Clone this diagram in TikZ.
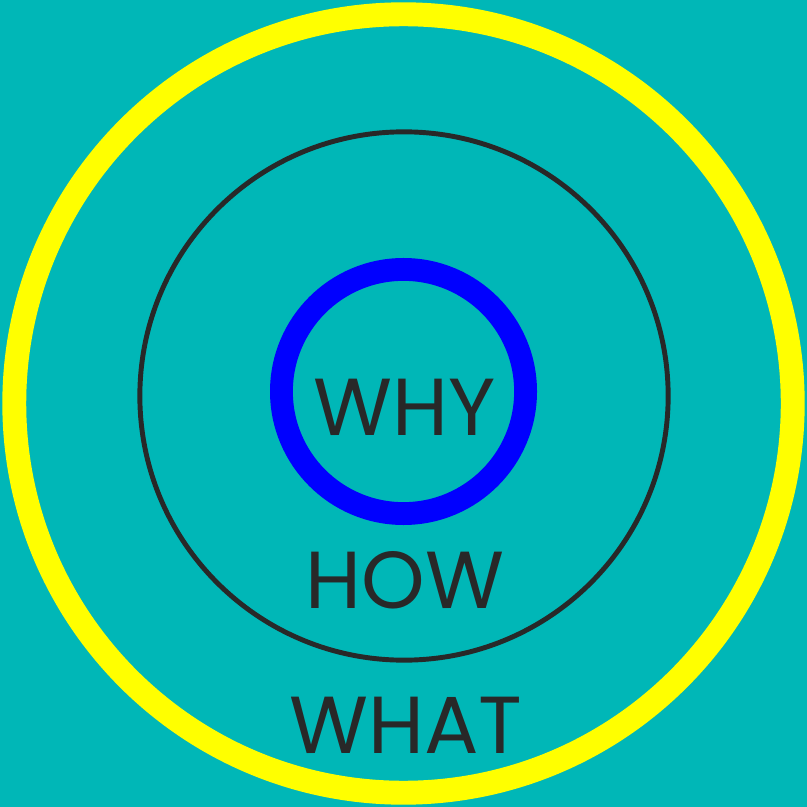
\documentclass[tikz,border=0pt]{standalone}
\usepackage{fontspec}
\setmainfont{Poppins}
\definecolor{circlebg}{RGB}{0, 183, 183}
\definecolor{ringyellow}{RGB}{255, 255, 0}
\definecolor{ringblue}{RGB}{0, 0, 255}
\definecolor{inkgray}{RGB}{40, 40, 40}
\usetikzlibrary{positioning}

\begin{document}
\begin{tikzpicture}[
  x=0.01cm, y=-0.01cm,
  ring/.style={draw, circle, inner sep=0pt},
  word/.style={anchor=base, text=inkgray, font=\fontsize{23}{27}\selectfont, inner sep=0pt}
]
  \fill[circlebg] (0,0) rectangle (807,807);
  \useasboundingbox (0,0) rectangle (807,807);

  % outer, middle and inner rings
  \node[ring, ringyellow, line width=6.8pt, minimum size=7.78cm] (outer) at (403.5,403.5) {};
  \node[ring, inkgray, line width=1.4pt, minimum size=5.28cm] (middle) at (404,396) {};
  \node[ring, ringblue, line width=6.5pt, minimum size=2.44cm] (inner) at (403.5,391.5) {};

  \node[word] (why) at (405,435) {WHY};
  \node[word] (how) at (405,608) {HOW};
  \node[word] (what) at (406,753) {WHAT};
\end{tikzpicture}
\end{document}
